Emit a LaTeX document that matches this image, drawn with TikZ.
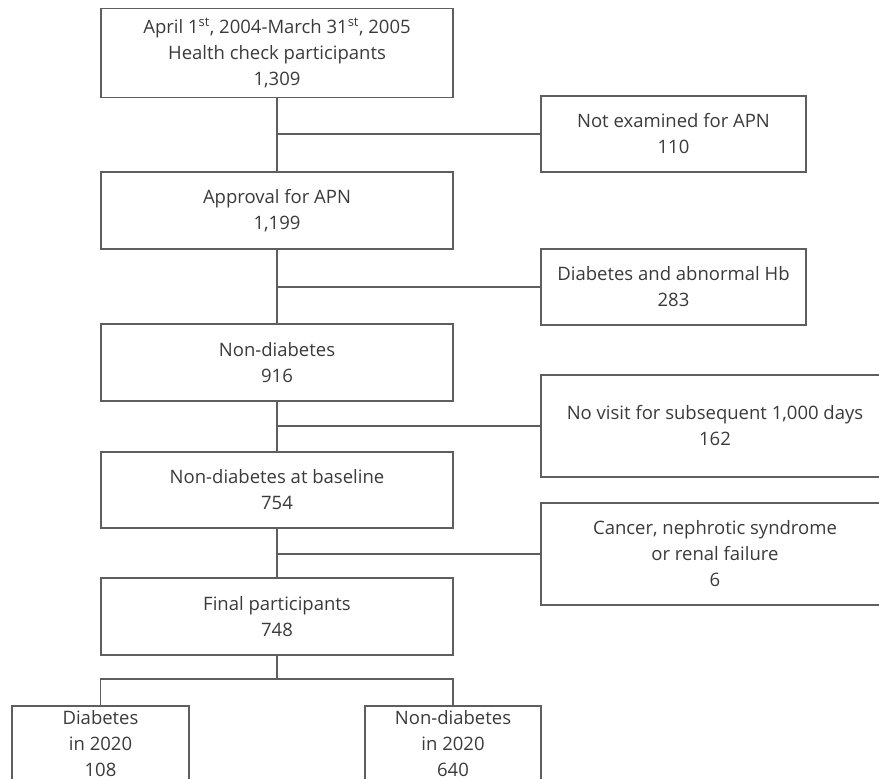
\documentclass[tikz,border=0pt]{standalone}
\usepackage{fontspec}
\setmainfont{Open Sans}
\definecolor{txtgray}{HTML}{3A3A3A}
\definecolor{linegray}{HTML}{5E5E5E}
\begin{document}
\begin{tikzpicture}[x=1pt,y=-1pt,
  box/.style={draw=linegray, line width=1.3pt, rectangle, inner sep=0pt,
    align=center, text=txtgray, font=\fontsize{18.5}{26}\selectfont},
  conn/.style={draw=linegray, line width=1.3pt}]
\useasboundingbox (0,0) rectangle (879,779);
\clip (0,0) rectangle (879,779);
% main column
\node[box, minimum width=352pt, minimum height=89pt] (b1) at (277,53)
  {April 1\textsuperscript{st}, 2004-March 31\textsuperscript{st}, 2005\\Health check participants\\1,309};
\node[box, minimum width=352pt, minimum height=77pt] (b2) at (277,210.5)
  {Approval for APN\\1,199};
\node[box, minimum width=352pt, minimum height=77pt] (b3) at (277,362.5)
  {Non-diabetes\\916};
\node[box, minimum width=352pt, minimum height=76pt] (b4) at (277,490)
  {Non-diabetes at baseline\\754};
\node[box, minimum width=352pt, minimum height=77pt] (b5) at (277,616.5)
  {Final participants\\748};
% exclusion boxes
\node[box, minimum width=265pt, minimum height=76pt] (e1) at (673.5,134)
  {Not examined for APN\\110};
\node[box, minimum width=265pt, minimum height=76pt] (e2) at (673.5,287)
  {Diabetes and abnormal Hb\\283};
\node[box, minimum width=348pt, minimum height=102pt] (e3) at (715,426)
  {No visit for subsequent 1,000 days\\162};
\node[box, minimum width=348pt, minimum height=102pt] (e4) at (715,554)
  {Cancer, nephrotic syndrome\\or renal failure\\6};
% outcome boxes (cut off by the lower edge)
\node[box, minimum width=177pt, minimum height=100pt] (d1) at (100.5,756)
  {Diabetes\\in 2020\\108\\\mbox{}};
\node[box, minimum width=176pt, minimum height=100pt] (d2) at (453,756)
  {Non-diabetes\\in 2020\\640\\\mbox{}};
% connectors
\draw[conn] (b1.south) -- (b2.north);
\draw[conn] (b2.south) -- (b3.north);
\draw[conn] (b3.south) -- (b4.north);
\draw[conn] (b4.south) -- (b5.north);
\draw[conn] (b1.south |- e1.west) -- (e1.west);
\draw[conn] (b2.south |- e2.west) -- (e2.west);
\draw[conn] (b3.south |- e3.west) -- (e3.west);
\draw[conn] (b4.south |- e4.west) -- (e4.west);
\coordinate (split) at (277,679);
\draw[conn] (b5.south) -- (split);
\draw[conn] (d1.north) |- (split) -| (d2.north);
\end{tikzpicture}
\end{document}
